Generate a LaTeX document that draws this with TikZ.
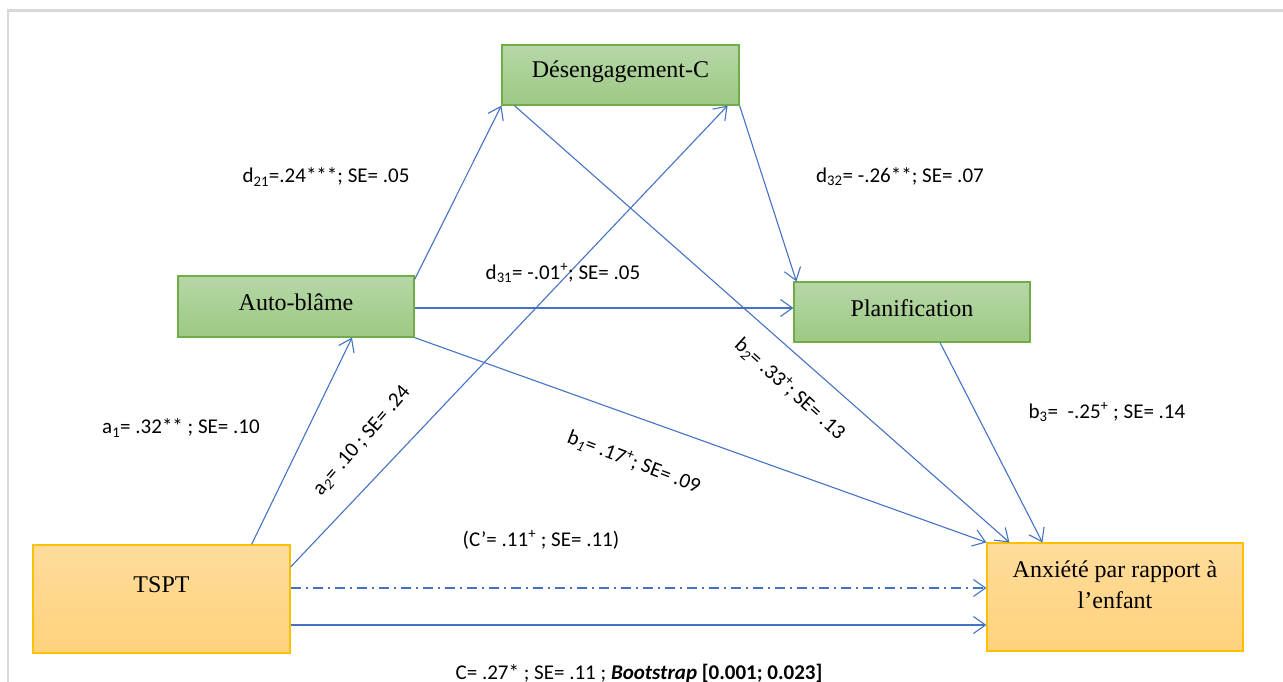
\documentclass[tikz,border=0pt]{standalone}
\usepackage{fontspec}
\setmainfont{Liberation Serif}
\newfontfamily\lblfont{Carlito}
\usetikzlibrary{arrows.meta}

\definecolor{linkblue}{HTML}{4472C4}
\definecolor{greenedge}{HTML}{70AD47}
\definecolor{greentop}{HTML}{B6D7A8}
\definecolor{greenbot}{HTML}{9DC983}
\definecolor{orangeedge}{HTML}{FFC000}
\definecolor{orangetop}{HTML}{FFDC9C}
\definecolor{orangebot}{HTML}{FFD27C}

\begin{document}
\begin{tikzpicture}
	[x=1pt, y=-1pt,
	link/.style={-{Straight Barb[length=12pt,width=17pt]}, linkblue, line width=1.1pt},
	greenbox/.style={draw=greenedge, line width=1.2pt, top color=greentop, bottom color=greenbot, minimum width=237pt, minimum height=60pt},
	orangebox/.style={draw=orangeedge, line width=1.2pt, top color=orangetop, bottom color=orangebot, minimum width=257pt, minimum height=108pt},
	boxtext/.style={font=\fontsize{24}{31}\selectfont, align=center},
	lbl/.style={font=\fontsize{21}{24}\selectfont\lblfont}]
	
	\useasboundingbox (0, 0) rectangle (1283, 681);
	\clip (0, 0) rectangle (1283, 681);
	
	% Draw page frame
	\draw[gray!30, line width=2.5pt] (8, 690) -- (8, 10.5) -- (1290, 10.5);
	
	% Draw boxes
	\node[greenbox, label={[boxtext, yshift=3pt]center:Désengagement-C}] (desc) at (620.5, 75) {};
	\node[greenbox, minimum width=236pt, minimum height=61pt, label={[boxtext, yshift=4pt]center:Auto-blâme}] (auto) at (296, 306.5) {};
	\node[greenbox, minimum width=236pt, label={[boxtext, yshift=4pt]center:Planification}] (plan) at (912, 312) {};
	\node[orangebox, label={[boxtext, yshift=14pt]center:TSPT}] (tspt) at (161.5, 599) {};
	\node[orangebox, minimum width=256pt, label={[boxtext, yshift=12pt]center:Anxiété par rapport à\\l’enfant}] (anx) at (1115, 597) {};
	
	% Draw paths
	\draw[link] ([xshift=-39pt]tspt.north east) -- ([xshift=56pt]auto.south);
	\draw[link] ([yshift=32pt]tspt.east) -- ([xshift=-12pt]desc.south east);
	\draw[link] ([yshift=-4pt]auto.north east) -- (desc.south west);
	\draw[link] ([xshift=13pt]desc.south west) -- ([xshift=23pt]anx.north west);
	\draw[link] (desc.south east) -- ([xshift=3pt]plan.north west);
	\draw[link] ([yshift=-1.5pt]auto.east) -- ([yshift=-1.5pt]auto.east -| plan.west);
	\draw[link] (auto.south east) -- (anx.north west);
	\draw[link] ([xshift=28pt]plan.south) -- ([xshift=56pt]anx.north west);
	\draw[link, dash pattern=on 10pt off 5pt on 2pt off 5pt] ([yshift=11pt]tspt.east) -- ([yshift=11pt]tspt.east -| anx.west);
	\draw[link] ([yshift=-26pt]tspt.east) -- ([yshift=-26pt]tspt.east -| anx.west);
	
	% Draw coefficients
	\node[lbl] (d21) at (326, 177) {d\textsubscript{21}=.24***; SE= .05};
	\node[lbl] (d31) at (563, 273) {d\textsubscript{31}= -.01\textsuperscript{+}; SE= .05};
	\node[lbl] (d32) at (900, 177) {d\textsubscript{32}= -.26**; SE= .07};
	\node[lbl] (a1) at (181, 428) {a\textsubscript{1}= .32** ; SE= .10};
	\node[lbl, rotate=49] (a2) at (362, 441) {a\textsubscript{\textit{2}}= .10 ; SE= .24};
	\node[lbl, rotate=-21] (b1) at (634, 462) {b\textsubscript{\textit{1}}= .17\textsuperscript{+}; SE= .09};
	\node[lbl, rotate=-42] (b2) at (790, 389) {b\textsubscript{\textit{2}}= .33\textsuperscript{+}; SE= .13};
	\node[lbl] (b3) at (1107, 412) {b\textsubscript{3}=~ -.25\textsuperscript{+} ; SE= .14};
	\node[lbl] (cp) at (541, 540) {(C’= .11\textsuperscript{+} ; SE= .11)};
	\node[lbl] (c) at (639, 673) {C= .27* ; SE= .11 ; \textbf{\textit{Bootstrap}} \textbf{[0.001; 0.023]}};
	
\end{tikzpicture}
\end{document}
